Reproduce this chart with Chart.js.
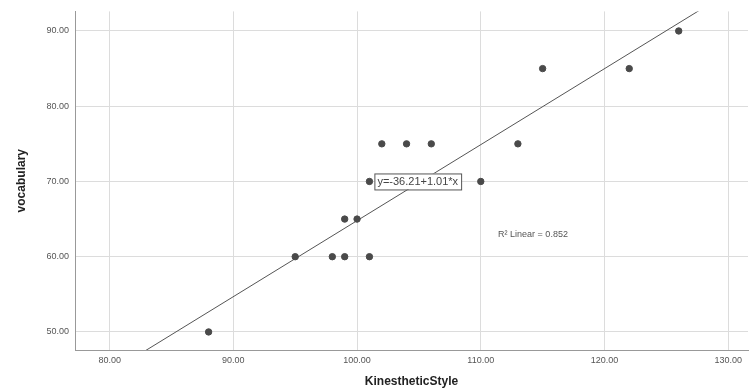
<!DOCTYPE html>
<html>
<head>
<meta charset="utf-8">
<script src="https://cdn.jsdelivr.net/npm/chart.js@4"></script>
<style>
  html, body { margin: 0; padding: 0; background: #fff; }
  #wrap { width: 753px; height: 389px; }
</style>
</head>
<body>
<div id="wrap"><canvas id="scatterChart" width="753" height="389"></canvas></div>
<script>
// data
const kinesthetic = [88, 95, 98, 99, 101, 99, 100, 101, 110, 102, 104, 106, 113, 115, 122, 126];
const vocabulary  = [50, 60, 60, 60, 60, 65, 65, 70, 70, 75, 75, 75, 75, 85, 85, 90];
const xTicks = [80, 90, 100, 110, 120, 130];
const yTicks = [50, 60, 70, 80, 90];
const fitIntercept = -36.21;
const fitSlope = 1.01;
const rSquared = 0.852;

const xMin = 77.2, xMax = 131.6;
const fitLine = [xMin, xMax].map(x => ({ x: x, y: fitIntercept + fitSlope * x }));

const labelsPlugin = {
  id: 'fitLabels',
  afterDatasetsDraw(chart) {
    const c = chart.ctx;
    const xs = chart.scales.x, ys = chart.scales.y;
    c.save();
    // equation box
    const eq = 'y=' + fitIntercept.toFixed(2) + '+' + fitSlope.toFixed(2) + '*x';
    c.font = '11px "Liberation Sans", Arial, sans-serif';
    const w = c.measureText(eq).width + 6;
    const bx = xs.getPixelForValue(101.4), by = ys.getPixelForValue(70);
    c.fillStyle = '#fff';
    c.fillRect(bx, by - 8, w, 16);
    c.strokeStyle = '#555';
    c.lineWidth = 1;
    c.strokeRect(bx + 0.5, by - 7.5, w, 16);
    c.fillStyle = '#444';
    c.textBaseline = 'middle';
    c.fillText(eq, bx + 3, by + 1);
    // R² text
    c.font = '9px "Liberation Sans", Arial, sans-serif';
    c.fillStyle = '#555';
    const rx = xs.getPixelForValue(111.4), ry = ys.getPixelForValue(62.9);
    c.fillText('R\u00B2 Linear = ' + rSquared.toFixed(3), rx, ry);
    c.restore();
  }
};

const ctx = document.getElementById('scatterChart').getContext('2d');
new Chart(ctx, {
  type: 'scatter',
  data: {
    datasets: [{
      label: 'vocabulary',
      data: kinesthetic.map((x, i) => ({ x: x, y: vocabulary[i] })),
      backgroundColor: '#4a4a4a',
      borderColor: '#4a4a4a',
      pointRadius: 3.2,
      order: 1
    }, {
      type: 'line',
      label: 'fit',
      data: fitLine,
      borderColor: '#555',
      borderWidth: 1,
      pointRadius: 0,
      fill: false,
      order: 2
    }]
  },
  options: {
    responsive: false,
    animation: false,
    layout: { padding: { top: 10, right: 5, left: 0, bottom: 0 } },
    plugins: {
      legend: { display: false },
      tooltip: { enabled: false }
    },
    scales: {
      x: {
        type: 'linear',
        min: xMin,
        max: xMax,
        afterBuildTicks: s => { s.ticks = xTicks.map(v => ({ value: v })); },
        afterFit: s => { s.height = 39; },
        grid: { color: '#dcdcdc', drawTicks: false },
        border: { color: '#999' },
        ticks: {
          padding: 5,
          color: '#555',
          font: { size: 9, family: '"Liberation Sans", Arial, sans-serif' },
          callback: v => v.toFixed(2)
        },
        title: {
          display: true,
          text: 'KinestheticStyle',
          color: '#222',
          padding: { top: 4, bottom: 0 },
          font: { size: 12, weight: 'bold', family: '"Liberation Sans", Arial, sans-serif' }
        }
      },
      y: {
        type: 'linear',
        min: 47.6,
        max: 92.6,
        afterBuildTicks: s => { s.ticks = yTicks.map(v => ({ value: v })); },
        afterFit: s => { s.width = 75; },
        grid: { color: '#dcdcdc', drawTicks: false },
        border: { color: '#999' },
        ticks: {
          padding: 6,
          color: '#555',
          font: { size: 9, family: '"Liberation Sans", Arial, sans-serif' },
          callback: v => v.toFixed(2)
        },
        title: {
          display: true,
          text: 'vocabulary',
          color: '#222',
          padding: { top: 14, bottom: 4 },
          font: { size: 12, weight: 'bold', family: '"Liberation Sans", Arial, sans-serif' }
        }
      }
    }
  },
  plugins: [labelsPlugin]
});
</script>
</body>
</html>
